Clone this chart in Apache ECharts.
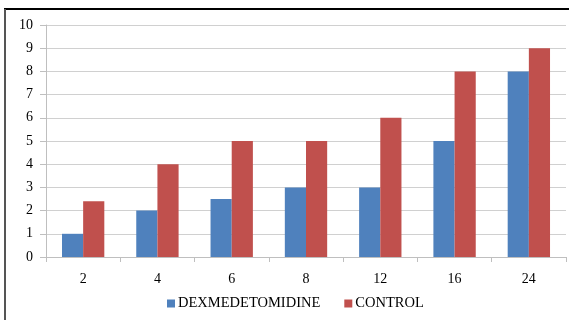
<!DOCTYPE html>
<html><head><meta charset="utf-8">
<script src="https://cdn.jsdelivr.net/npm/echarts@6/dist/echarts.min.js"></script>
<style>html,body{margin:0;padding:0;background:#fff}#c{width:569px;height:320px}</style>
</head><body><div id="c"></div>
<script>
const categories = ['2','4','6','8','12','16','24'];
const dexValues = [1, 2, 2.5, 3, 3, 5, 8];
const controlValues = [2.4, 4, 5, 5, 6, 8, 9];
const yTicks = [0,1,2,3,4,5,6,7,8,9,10];

const chart = echarts.init(document.getElementById('c'), null, {renderer:'canvas'});
const font = '"Liberation Serif", "Times New Roman", serif';
chart.setOption({
  animation:false,
  textStyle:{fontFamily:font},
  graphic:[
    {type:'line', shape:{x1:4, y1:9, x2:569, y2:9}, style:{stroke:'#000', lineWidth:2}},
    {type:'line', shape:{x1:5, y1:9, x2:5, y2:320}, style:{stroke:'#555', lineWidth:2}}
  ],
  grid:{left:46, right:3, top:25, bottom:63, containLabel:false},
  legend:{
    top:291, left:162,
    itemWidth:8, itemHeight:8, itemGap:24,
    icon:'rect',
    textStyle:{fontFamily:font, fontSize:14.5, color:'#000', padding:[0,0,0,-2]},
    data:['DEXMEDETOMIDINE','CONTROL']
  },
  xAxis:{
    type:'category', data:categories,
    axisLine:{lineStyle:{color:'#bfbfbf'}},
    axisTick:{show:true, length:5, lineStyle:{color:'#bfbfbf'}},
    axisLabel:{fontFamily:font, fontSize:14, color:'#000', margin:15}
  },
  yAxis:{
    type:'value', min:0, max:10, interval:1,
    axisLine:{show:true, lineStyle:{color:'#bfbfbf'}},
    axisTick:{show:true, length:6, lineStyle:{color:'#bfbfbf'}},
    splitLine:{lineStyle:{color:'#d0d0d0'}},
    axisLabel:{fontFamily:font, fontSize:14, color:'#000', margin:13,
      formatter:function(v){return yTicks.indexOf(v)>=0?String(v):'';}}
  },
  series:[
    {name:'DEXMEDETOMIDINE', type:'bar', data:dexValues, barGap:'0%', barCategoryGap:'43%',
     itemStyle:{color:'#4f81bd'}},
    {name:'CONTROL', type:'bar', data:controlValues, barGap:'0%', barCategoryGap:'43%',
     itemStyle:{color:'#c0504d'}}
  ]
});
</script></body></html>
